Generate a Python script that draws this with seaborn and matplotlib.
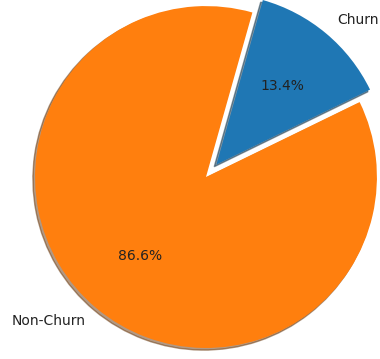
import matplotlib
matplotlib.use("Agg")
import matplotlib.pyplot as plt
import seaborn as sns

labels = ["Churn", "Non-Churn"]
shares = [13.4, 86.6]

colors = sns.color_palette("tab10", 2)

fig = plt.figure(figsize=(3.8, 3.59), dpi=100)
ax = fig.add_axes([0, 0, 1, 1])
ax.pie(shares, labels=labels, colors=colors, explode=[0.095, 0.0],
       autopct="%1.1f%%", startangle=26,
       shadow={"ox": -0.009, "oy": -0.009, "shade": 0.6},
       textprops={"fontsize": 10, "color": "#222222"})
ax.set_aspect("equal")
ax.set_xlim(-1.205, 1.018)
ax.set_ylim(-1.064, 1.035)
ax.axis("off")
fig.savefig("out.png", dpi=100)
